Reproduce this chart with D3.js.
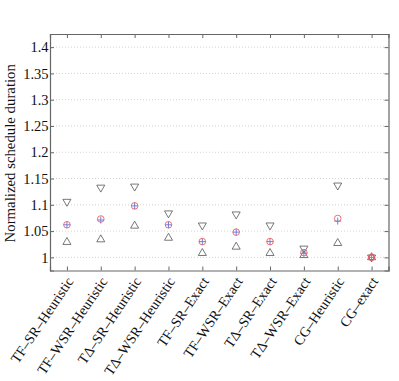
<!DOCTYPE html>
<html><head><meta charset="utf-8">
<script src="https://cdn.jsdelivr.net/npm/d3@7"></script>
<style>body{margin:0;background:#fff}svg{display:block}svg text{font-family:"Liberation Serif","Times New Roman",Times,serif !important}</style>
</head><body>
<script>
const categories = ["TF–SR–Heuristic","TF–WSR–Heuristic","TΔ–SR–Heuristic","TΔ–WSR–Heuristic","TF–SR–Exact","TF–WSR–Exact","TΔ–SR–Exact","TΔ–WSR–Exact","CG–Heuristic","CG–exact"];
const maxVals    = [1.106, 1.133, 1.135, 1.084, 1.061, 1.082, 1.061, 1.017, 1.137, 1.0];
const meanVals   = [1.062, 1.073, 1.098, 1.062, 1.030, 1.048, 1.030, 1.009, 1.074, 1.0];
const medianVals = [1.062, 1.071, 1.098, 1.062, 1.030, 1.048, 1.030, 1.008, 1.069, 1.0];
const minVals    = [1.029, 1.034, 1.060, 1.037, 1.008, 1.020, 1.008, 1.004, 1.027, 1.0];
const yTicks = [1, 1.05, 1.1, 1.15, 1.2, 1.25, 1.3, 1.35, 1.4];

const W = 399, H = 381;
const m = {left: 50, top: 34, right: 10.5, bottom: 110.5};
const svg = d3.select("body").append("svg").attr("width", W).attr("height", H);
const iw = W - m.left - m.right, ih = H - m.top - m.bottom;
const g = svg.append("g").attr("transform", `translate(${m.left},${m.top})`);

const x = d3.scalePoint().domain(categories).range([0, iw]).padding(0.5);
const y = d3.scaleLinear().domain([0.975, 1.425]).range([ih, 0]);

// grid
g.append("g").selectAll("line").data(yTicks).join("line")
  .attr("x1", 0).attr("x2", iw).attr("y1", d => y(d)).attr("y2", d => y(d))
  .attr("stroke", "#c8c8c8").attr("stroke-width", 0.8).attr("stroke-dasharray", "1,2");

const axColor = "#666";
const yAx = g.append("g").call(d3.axisLeft(y).tickValues(yTicks).tickSize(-4).tickPadding(1.5).tickFormat(d => d3.format("")(d)));
const yAxR = g.append("g").attr("transform", `translate(${iw},0)`).call(d3.axisRight(y).tickValues(yTicks).tickSize(-4).tickFormat(""));
const xAx = g.append("g").attr("transform", `translate(0,${ih})`).call(d3.axisBottom(x).tickSize(-4).tickFormat(""));
const xAxT = g.append("g").call(d3.axisTop(x).tickSize(-4).tickFormat(""));
[yAx, yAxR, xAx, xAxT].forEach(a => {
  a.select(".domain").attr("stroke", axColor).attr("stroke-width", 1.2);
  a.selectAll(".tick line").attr("stroke", axColor);
});
yAx.selectAll(".tick text").attr("font-size", 14.5).attr("fill", "#111");

// x labels
g.append("g").selectAll("text").data(categories).join("text")
  .attr("transform", d => `translate(${x(d)+3},${ih+8}) rotate(-56)`)
  .attr("text-anchor", "end").attr("dy", "0.35em")
  .attr("font-size", 14.2).attr("fill", "#111").text(d => d);

// y label
svg.append("text").attr("transform", `translate(15,${m.top + ih/2 + 1}) rotate(-90)`)
  .attr("text-anchor", "middle").attr("font-size", 14.8).attr("fill", "#111")
  .text("Normalized schedule duration");

const tri = d3.symbol().type(d3.symbolTriangle).size(28);
const pts = categories.map((c, i) => ({c, i}));
// max: down triangles
g.append("g").selectAll("path").data(pts).join("path")
  .attr("d", tri).attr("transform", d => `translate(${x(d.c)},${y(maxVals[d.i])}) rotate(180)`)
  .attr("fill", "none").attr("stroke", "#555").attr("stroke-width", 0.8);
// min: up triangles
g.append("g").selectAll("path").data(pts).join("path")
  .attr("d", tri).attr("transform", d => `translate(${x(d.c)},${y(minVals[d.i])})`)
  .attr("fill", "none").attr("stroke", "#555").attr("stroke-width", 0.8);
// median: blue plus
g.append("g").selectAll("path").data(pts).join("path")
  .attr("d", d => { const cx = x(d.c), cy = y(medianVals[d.i]); return `M${cx-3.5},${cy}H${cx+3.5}M${cx},${cy-3.5}V${cy+3.5}`; })
  .attr("fill", "none").attr("stroke", "#6f7fe0").attr("stroke-width", 1);
// mean: red circle
g.append("g").selectAll("circle").data(pts).join("circle")
  .attr("cx", d => x(d.c)).attr("cy", d => y(meanVals[d.i])).attr("r", 3.3)
  .attr("fill", "none").attr("stroke", "#f06060").attr("stroke-width", 0.9);
</script>
</body></html>
